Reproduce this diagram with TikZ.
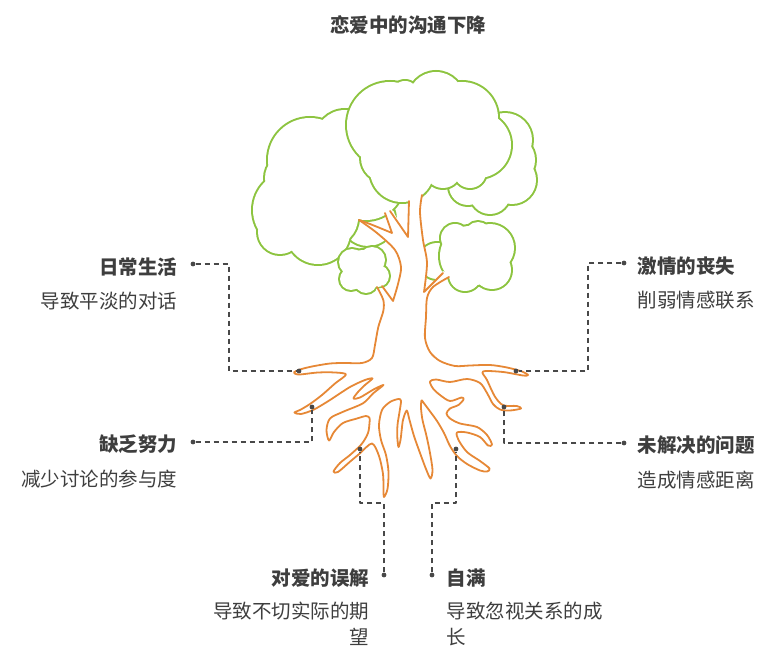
\documentclass[tikz,border=0pt]{standalone}
\usepackage{fontspec}
\setmainfont{Noto Sans CJK SC}
\definecolor{leafgreen}{RGB}{141,196,64}
\definecolor{barkorange}{RGB}{230,136,54}
\definecolor{inkgray}{RGB}{72,72,72}
\definecolor{textgray}{RGB}{62,62,62}
% tán cây: hợp các hình tròn (viền dày trước, tô trắng sau)
\newcommand\crown[1]{%
	\foreach \x/\y/\r in {#1}{\draw[leaf] (\x,\y) circle (\r pt);}%
	\foreach \x/\y/\r in {#1}{\fill[white] (\x,\y) circle (\r pt);}%
}
\begin{document}
\begin{tikzpicture}[x=1pt, y=-1pt, line join=round, line cap=round,
	font=\fontsize{19.5}{26}\selectfont,
	leaf/.style={draw=leafgreen, line width=4pt},
	bark/.style={draw=barkorange, line width=1.8pt},
	leader/.style={draw=inkgray, line width=1.5pt, line cap=butt, dash pattern=on 5pt off 4pt},
	pindot/.style={circle, fill=inkgray, inner sep=0pt, minimum size=4.8pt},
	labeltxt/.style={font=\fontsize{19.5}{26}\selectfont\bfseries, text=textgray, inner sep=0pt},
	notetxt/.style={text=textgray, inner sep=0pt}]
	\useasboundingbox (0,0) rectangle (780,660);
	
	\node[labeltxt] (title) at (408,25) {恋爱中的沟通下降};
	
	% tán lá phía sau
	\crown{368/219/27}
	\crown{437/261/18}
	\crown{505/140/27, 510/160/25, 512/180/24, 490/194/20, 468/186/19, 490/160/30}
	\crown{345/140/30, 310/160/42, 290/178/25, 292/210/39, 280/232/22, 318/232/32, 330/218/28, 330/180/35, 366/182/38}
	% tán lá phía trước
	\crown{390/125/43, 436/100/28, 405/95/14, 462/118/36, 478/145/33, 443/170/18, 470/172/16, 385/158/24, 402/170/32, 440/140/35}
	\crown{470/256/30, 490/248/24, 492/270/19, 465/275/16, 455/238/14, 478/235/13}
	\crown{363/270/20, 352/262/13, 372/260/13, 378/276/11, 366/282/11, 351/279/11}
	
	% thân cây
	\fill[white] (359,220) -- (375,225) -- (392,233) -- (385,211) -- (391,208) -- (408,237) -- (409,197) -- (423,190) -- (420,212) -- (423,240) -- (427,263) -- (424,292) -- (443,271) -- (451,276) -- (433,287) -- (427,298) -- (426,317) -- (426,335) -- (377,335) -- (378,327) -- (383,311) -- (383,300) -- (376,289) -- (382,288) -- (393,301) -- (398,284) -- (401,267) -- (395,250) -- (377,233) -- cycle;
	\draw[bark] (385,213) -- (392,233) .. controls (380,228) and (368,223) .. (359,220);
	\draw[bark] plot[smooth] coordinates {(359,220) (377,233) (395,250) (401,267) (398,284) (393,301)} -- (382,286);
	\draw[bark] (390,211) -- (408,237) -- (409,201);
	\draw[bark] plot[smooth] coordinates {(422,195) (420,212) (423,240) (427,263) (424,292)} -- (443,273);
	% rễ cây
	\draw[bark] plot[smooth] coordinates {(377,287) (383.3,300) (383.3,311) (378.3,327) (375,345) (372,358) (362,363) (345,363) (330,363.5) (312,366.5) (300,369.5) (294,372.5) (299,374.5) (318,372.5) (335,372.5) (346,374.5) (335,383.5) (322,395) (310,404) (300,410) (294.5,412.5) (301,414) (314,409.5) (330,400) (350,387) (365,380) (372.5,378.5) (365,385) (358,392) (353.5,398.5) (360,397.5) (373.5,389.5) (383.5,385) (373,393.5) (363,403.3) (343.3,411.7) (330,418.5) (326.5,430) (329,440.5) (334,432) (343,423) (357,418.5) (366,416) (369.5,418) (369.5,423) (368,433) (361.7,444) (350,455) (340,463) (333.5,471.5) (338,472) (350,461.7) (360,453.3) (372,443.5) (379,456) (383,474) (383.5,489) (384,497) (387.5,489) (388.5,472) (386,455) (381,440) (379,425) (382,410) (390,402) (398.5,399) (401,401) (399.5,412) (397.5,425) (397.3,437) (398.5,447) (400.5,440) (401.7,430) (403,420) (406.7,410.5) (409.5,420) (414,436) (420,453) (426,469) (430.5,478.5) (432.5,470) (430,453) (426.5,436) (422.5,420) (421,408) (421.5,400.5) (423,402) (429,410) (437,421) (444,433) (450,446) (457,456) (467,464) (480,470.5) (487,471.5) (489.5,468.5) (480,461) (467,452) (458.5,440) (457,432.5) (467,432.5) (480,437) (488,445.5) (492,444.5) (487,435) (477,427) (460,423.5) (450,418.5) (446.5,413.5) (450,408.5) (458.5,405) (463.5,399.5) (461.5,397.5) (450,401) (440,395) (433,388.5) (430,381.5) (436,379.5) (450,382) (467,379) (480,383) (487,393) (493,404) (500,409.5) (510,410.5) (521,408.5) (516.7,406) (503.3,405.3) (495,396.7) (487,380) (483,371.5) (503,372) (523,375.5) (528,375) (522,371.5) (507,367.5) (490,365) (470,365.5) (455,366) (440,361) (430,352) (425,338) (426,317) (427,298) (433,287) (449,277)};
	
	% đường dẫn
	\node[pindot] (dDaily) at (193,264) {};
	\node[pindot] (rDaily) at (299,371) {};
	\draw[leader] (dDaily) -- ++(36,0) |- (rDaily);
	\node[pindot] (dEffort) at (193,442) {};
	\node[pindot] (rEffort) at (312,407) {};
	\draw[leader] (dEffort) -| (rEffort);
	\node[pindot] (dMyth) at (384,575) {};
	\node[pindot] (rMyth) at (360,449) {};
	\draw[leader] (dMyth) -- ++(0,-72) -| (rMyth);
	\node[pindot] (dSmug) at (432,575) {};
	\node[pindot] (rSmug) at (456,449) {};
	\draw[leader] (dSmug) -- ++(0,-72) -| (rSmug);
	\node[pindot] (dSpark) at (624,263) {};
	\node[pindot] (rSpark) at (516,371) {};
	\draw[leader] (dSpark) -- ++(-36,0) |- (rSpark);
	\node[pindot] (dIssue) at (624,443) {};
	\node[pindot] (rIssue) at (504,407) {};
	\draw[leader] (dIssue) -| (rIssue);
	
	% nhãn
	\node[labeltxt, anchor=east] (tDaily) at (177.5,267) {日常生活};
	\node[notetxt, anchor=east] (nDaily) at (177.5,301.5) {导致平淡的对话};
	\node[labeltxt, anchor=east] (tEffort) at (177.5,444) {缺乏努力};
	\node[notetxt, anchor=east] (nEffort) at (177.5,479) {减少讨论的参与度};
	\node[labeltxt, anchor=west] (tSpark) at (637.5,266) {激情的丧失};
	\node[notetxt, anchor=west] (nSpark) at (637.5,300.5) {削弱情感联系};
	\node[labeltxt, anchor=west] (tIssue) at (637.5,445) {未解决的问题};
	\node[notetxt, anchor=west] (nIssue) at (637.5,480) {造成情感距离};
	\node[labeltxt, anchor=east] (tMyth) at (369.3,578) {对爱的误解};
	\node[notetxt, anchor=north east, align=right] (nMyth) at (369.3,602) {导致不切实际的期\\望};
	\node[labeltxt, anchor=west] (tSmug) at (446.5,578) {自满};
	\node[notetxt, anchor=north west, align=left] (nSmug) at (446.5,602) {导致忽视关系的成\\长};
\end{tikzpicture}
\end{document}
